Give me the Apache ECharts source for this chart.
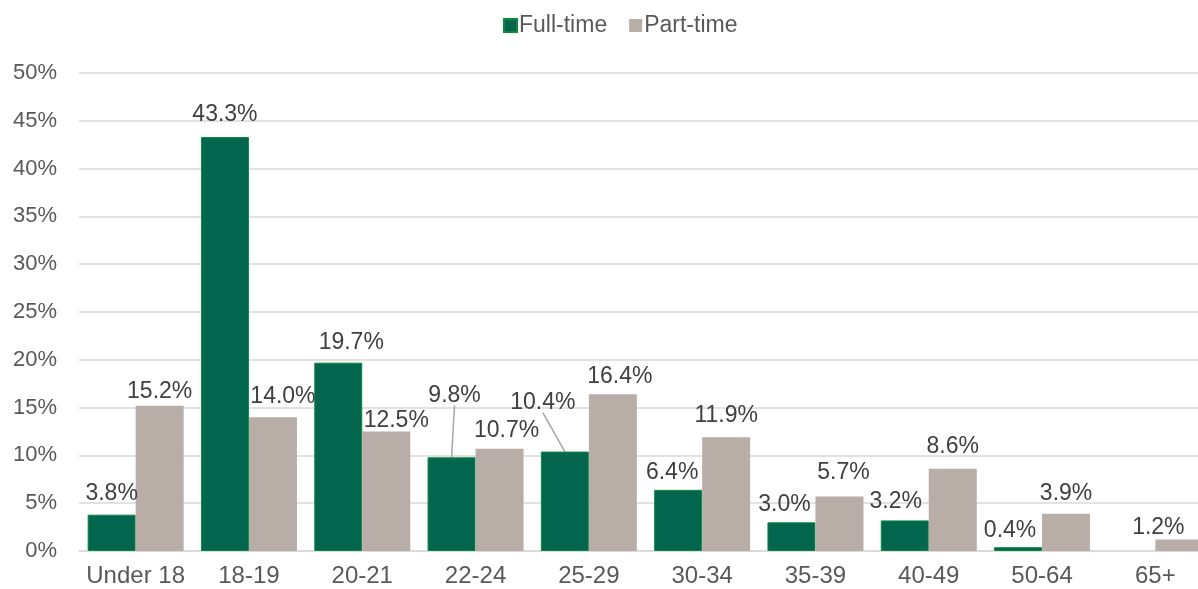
<!DOCTYPE html>
<html>
<head>
<meta charset="utf-8">
<script src="https://cdn.jsdelivr.net/npm/echarts@6/dist/echarts.min.js"></script>
<style>
  html, body { margin: 0; padding: 0; background: #fff; overflow: hidden; }
  /* plot runs a little past the right edge, like the source image */
  #container { width: 1212px; height: 589px; }
</style>
</head>
<body>
<div id="container"></div>
<script>
// age groups and shares (%)
var categories = ['Under 18', '18-19', '20-21', '22-24', '25-29', '30-34', '35-39', '40-49', '50-64', '65+'];
var fullTime = [3.8, 43.3, 19.7, 9.8, 10.4, 6.4, 3.0, 3.2, 0.4, 0];
var partTime = [15.2, 14.0, 12.5, 10.7, 16.4, 11.9, 5.7, 8.6, 3.9, 1.2];
var yTicks = [0, 5, 10, 15, 20, 25, 30, 35, 40, 45, 50];

// label nudges, like the excel ones (dx, dy in px)
var fullShift = [[0, -4], [0, -5], [13, -3], [3, -44], [-22, -31], [-6, 0], [-7, 0], [-9, -1], [-8, 1], [0, 0]];
var partShift = [[0, 3], [10, -3], [10, 7], [7, -1], [7, 0], [0, -4], [4, -6], [0, -5], [0, -3], [-21, 6]];
var leaderIdx = [3, 4]; // full-time labels with a guide line

var BAR_W = 48;
var LABEL_DIST = 6;

var dom = document.getElementById('container');
var myChart = echarts.init(dom);

var font = 'Liberation Sans, Arial, sans-serif';

function pct(p) {
	return p.value > 0 ? p.value.toFixed(1) + '%' : '';
}

// guide lines for the moved labels
var leaderData = leaderIdx.map(function(i) {
	return [i, fullTime[i]];
});

var option = {
	animation: false,
	legend: {
		left: 498,
		top: 9,
		icon: 'rect',
		itemWidth: 13,
		itemHeight: 13,
		itemGap: 22,
		textStyle: {
			fontFamily: font,
			fontSize: 23,
			color: '#595959',
			padding: [0, 0, 0, -3]
		},
		data: ['Full-time', 'Part-time']
	},
	grid: {
		left: 79,
		right: 0,
		top: 73,
		bottom: 38,
		containLabel: false
	},
	xAxis: {
		type: 'category',
		data: categories,
		axisTick: { show: false },
		axisLine: { lineStyle: { color: '#D9D9D9', width: 1.5 } },
		axisLabel: {
			interval: 0,
			margin: 13,
			fontFamily: font,
			fontSize: 24,
			color: '#595959'
		}
	},
	yAxis: {
		type: 'value',
		min: yTicks[0],
		max: yTicks[yTicks.length - 1],
		interval: 5,
		axisLine: { show: false },
		axisTick: { show: false },
		splitLine: { lineStyle: { color: '#D9D9D9', width: 1.5 } },
		axisLabel: {
			margin: 22,
			fontFamily: font,
			fontSize: 22,
			color: '#595959',
			formatter: '{value}%'
		}
	},
	labelLayout: function(params) {
		var s = params.seriesIndex === 0 ? fullShift : (params.seriesIndex === 1 ? partShift : null);
		if (!s) return {};
		var d = s[params.dataIndex] || [0, 0];
		return { dx: d[0], dy: d[1] };
	},
	series: [{
		name: 'Full-time',
		type: 'bar',
		barWidth: BAR_W,
		barGap: '0%',
		itemStyle: {
			color: '#02664F',
			borderColor: '#0E8A3C',
			borderWidth: 1
		},
		label: {
			show: true,
			position: 'top',
			distance: LABEL_DIST,
			fontFamily: font,
			fontSize: 23,
			color: '#404040',
			formatter: pct
		},
		data: fullTime.map(function(v) {
			return v === 0 ? { value: v, itemStyle: { borderWidth: 0 } } : v;
		})
	}, {
		name: 'Part-time',
		type: 'bar',
		barWidth: BAR_W,
		barGap: '0%',
		itemStyle: {
			color: '#B9ADA7'
		},
		label: {
			show: true,
			position: 'top',
			distance: LABEL_DIST,
			fontFamily: font,
			fontSize: 23,
			color: '#404040',
			formatter: pct
		},
		data: partTime
	}, {
		type: 'custom',
		silent: true,
		z: 1,
		renderItem: function(params, api) {
			var idx = api.value(0);
			var top = api.coord([idx, api.value(1)]);
			var x0 = top[0] - BAR_W / 2;
			var d = fullShift[idx];
			return {
				type: 'line',
				shape: {
					x1: x0,
					y1: top[1],
					x2: x0 + d[0],
					y2: top[1] - LABEL_DIST + d[1] - 2
				},
				style: { stroke: '#A6A6A6', lineWidth: 1.5 }
			};
		},
		data: leaderData
	}]
};

myChart.setOption(option);
</script>
</body>
</html>
